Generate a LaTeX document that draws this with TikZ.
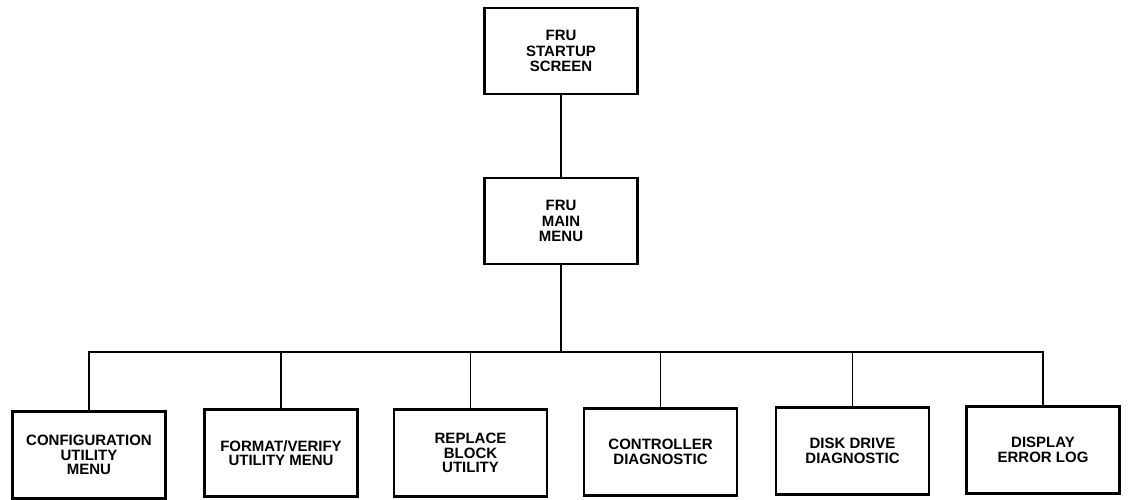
\documentclass[tikz,border=0pt]{standalone}
\usepackage{fontspec}
\setmainfont{Liberation Sans}
\begin{document}
\begin{tikzpicture}[x=1pt,y=-1pt,
  box/.style={draw, line width=2.2pt, rectangle, minimum width=153pt, inner sep=0pt,
    align=center, font=\bfseries\fontsize{15}{15.7}\selectfont},
  topbox/.style={box, minimum height=86pt},
  leaf/.style={box, minimum height=87pt, font=\bfseries\fontsize{15}{14.4}\selectfont},
  conn/.style={line width=1.8pt}]
\useasboundingbox (0,0) rectangle (1129,500);
\node[topbox] (startup) at (561,51) {FRU\\STARTUP\\SCREEN};
\node[topbox] (main) at (561,221) {FRU\\MAIN\\MENU};
\node[leaf] (config) at (89,455) {CONFIGURATION\\UTILITY\\MENU};
\node[leaf] (format) at (281,453) {FORMAT/VERIFY\\UTILITY MENU};
\node[leaf] (replace) at (470.5,453) {REPLACE\\BLOCK\\UTILITY};
\node[leaf] (ctrl) at (660.5,452) {CONTROLLER\\DIAGNOSTIC};
\node[leaf] (disk) at (852.5,451) {DISK DRIVE\\DIAGNOSTIC};
\node[leaf] (log) at (1043,450) {DISPLAY\\ERROR LOG};
\coordinate (bus) at (561,352);
\draw[conn] (startup.south) -- (main.north);
\draw[conn] (main.south) -- (bus);
\draw[conn] (config.north) |- (bus);
\draw[conn] (log.north) |- (bus);
\foreach \n in {format,replace,ctrl,disk}
  \draw[conn] (\n.north) -- (\n.north |- bus);
\end{tikzpicture}
\end{document}
